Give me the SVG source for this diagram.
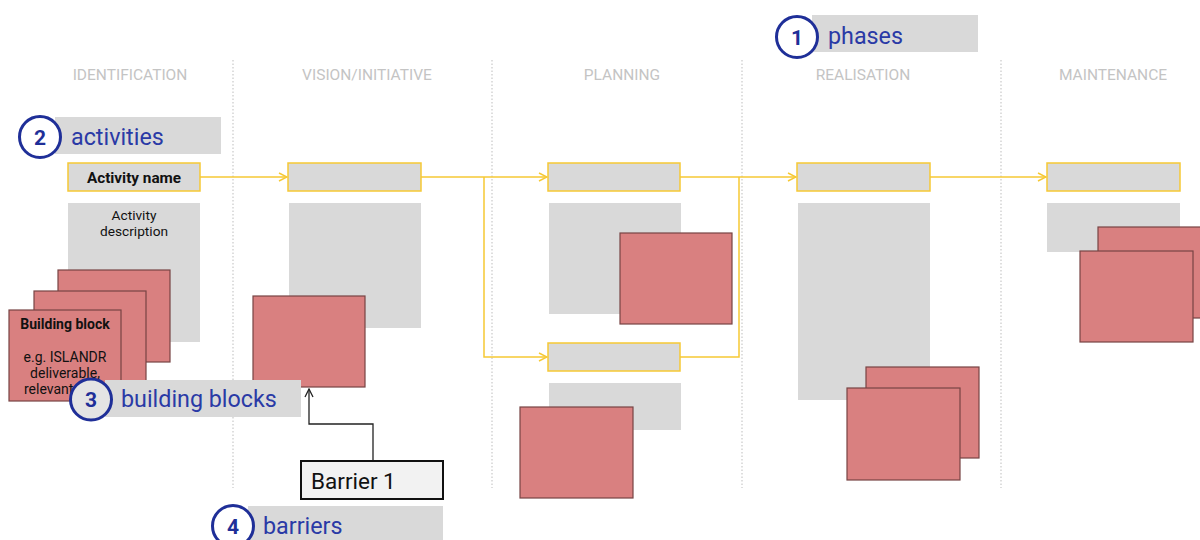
<svg xmlns="http://www.w3.org/2000/svg" width="1200" height="540" viewBox="0 0 1200 540">
  <style>
    .phase { font-family: Roboto, "Liberation Sans", sans-serif; font-size: 15.5px; fill: #c4c4c4; text-anchor: middle; }
    .divider { stroke: #d4d4d4; stroke-width: 1.5; stroke-dasharray: 1.5 2; }
    .act { fill: #d9d9d9; stroke: #f6c935; stroke-width: 1.5; }
    .desc { fill: #d9d9d9; }
    .block { fill: #d98080; stroke: #774444; stroke-width: 1.2; }
    .flow { fill: none; stroke: #f6c935; stroke-width: 1.5; }
    .label { font-family: Roboto, "Liberation Sans", sans-serif; fill: #111; text-anchor: middle; }
    .callbg { fill: #d9d9d9; }
    .callring { stroke: #1f2f98; stroke-width: 3; }
    .callnum { font-family: Roboto, "Liberation Sans", sans-serif; font-size: 21px; font-weight: bold; fill: #1f2f98; text-anchor: middle; }
    .calltxt { font-family: Roboto, "Liberation Sans", sans-serif; font-size: 23.3px; fill: #2a3aa6; }
  </style>
  <defs>
    <marker id="yarrow" viewBox="0 0 10 10" refX="9" refY="5" markerWidth="10" markerHeight="10" markerUnits="userSpaceOnUse" orient="auto">
      <path d="M1,1 L9,5 L1,9" fill="none" stroke="#f6c935" stroke-width="1.5"/>
    </marker>
    <marker id="karrow" viewBox="0 0 10 10" refX="9" refY="5" markerWidth="10" markerHeight="10" markerUnits="userSpaceOnUse" orient="auto">
      <path d="M1,1 L9,5 L1,9" fill="none" stroke="#222" stroke-width="1.3"/>
    </marker>
  </defs>

  <rect width="1200" height="540" fill="#ffffff"/>

  <!-- phase columns -->
  <g id="phases">
    <line class="divider" x1="233" y1="60" x2="233" y2="488"/>
    <line class="divider" x1="492" y1="60" x2="492" y2="488"/>
    <line class="divider" x1="742" y1="60" x2="742" y2="488"/>
    <line class="divider" x1="1001" y1="60" x2="1001" y2="488"/>
    <text class="phase" x="130" y="79.5">IDENTIFICATION</text>
    <text class="phase" x="367" y="79.5">VISION/INITIATIVE</text>
    <text class="phase" x="622" y="79.5">PLANNING</text>
    <text class="phase" x="863" y="79.5">REALISATION</text>
    <text class="phase" x="1113" y="79.5">MAINTENANCE</text>
  </g>

  <!-- activity descriptions -->
  <g id="descriptions">
    <rect class="desc" x="68" y="203" width="132" height="139"/>
    <text class="label" x="134" y="220" font-size="13.7">Activity</text>
    <text class="label" x="134" y="236" font-size="13.7">description</text>
    <rect class="desc" x="289" y="203" width="132" height="125"/>
    <rect class="desc" x="549" y="203" width="132" height="111"/>
    <rect class="desc" x="549" y="383" width="132" height="47"/>
    <rect class="desc" x="798" y="203" width="132" height="197"/>
    <rect class="desc" x="1047" y="203" width="133" height="49"/>
  </g>

  <!-- connectors -->
  <g id="connectors">
    <path class="flow" d="M200,177 H287" marker-end="url(#yarrow)"/>
    <path class="flow" d="M421,177 H547" marker-end="url(#yarrow)"/>
    <path class="flow" d="M484,177 V357 H547" marker-end="url(#yarrow)"/>
    <path class="flow" d="M680,177 H796" marker-end="url(#yarrow)"/>
    <path class="flow" d="M680,357 H739 V177"/>
    <path class="flow" d="M930,177 H1046" marker-end="url(#yarrow)"/>
    <path d="M373,461 V424 H309 V389" fill="none" stroke="#222" stroke-width="1.3" marker-end="url(#karrow)"/>
  </g>

  <!-- activities -->
  <g id="activity-1">
    <rect class="act" x="68" y="163" width="132" height="28"/>
    <text class="label" x="134" y="182.5" font-size="15.3" font-weight="bold">Activity name</text>
  </g>
  <g id="activity-2"><rect class="act" x="288" y="163" width="133" height="28"/></g>
  <g id="activity-3"><rect class="act" x="548" y="163" width="132" height="28"/></g>
  <g id="activity-4"><rect class="act" x="548" y="343" width="132" height="28"/></g>
  <g id="activity-5"><rect class="act" x="797" y="163" width="133" height="28"/></g>
  <g id="activity-6"><rect class="act" x="1047" y="163" width="133" height="28"/></g>

  <!-- building blocks -->
  <g id="blocks-identification">
    <rect class="block" x="58" y="270" width="112" height="92"/>
    <rect class="block" x="34" y="291" width="112" height="92"/>
    <rect class="block" x="9" y="310" width="112" height="91"/>
    <text class="label" x="65" y="328.5" font-size="14" font-weight="bold">Building block</text>
    <text class="label" x="65" y="362" font-size="14">e.g. ISLANDR</text>
    <text class="label" x="65" y="378" font-size="14">deliverable,</text>
    <text class="label" x="24" y="394" font-size="14" style="text-anchor:start">relevant</text>
  </g>
  <g id="blocks-vision">
    <rect class="block" x="253" y="296" width="112" height="91"/>
  </g>
  <g id="blocks-planning">
    <rect class="block" x="620" y="233" width="112" height="91"/>
    <rect class="block" x="520" y="407" width="113" height="91"/>
  </g>
  <g id="blocks-realisation">
    <rect class="block" x="866" y="367" width="113" height="91"/>
    <rect class="block" x="847" y="388" width="113" height="92"/>
  </g>
  <g id="blocks-maintenance">
    <rect class="block" x="1098" y="227" width="110" height="91"/>
    <rect class="block" x="1080" y="251" width="113" height="91"/>
  </g>

  <!-- barrier -->
  <g id="barrier-1">
    <rect x="301" y="461" width="142" height="38" fill="#f2f2f2" stroke="#111" stroke-width="2"/>
    <text x="311" y="488.5" font-family="Roboto, 'Liberation Sans', sans-serif" font-size="22.5" fill="#111">Barrier 1</text>
  </g>

  <!-- legend callouts -->
  <g id="callout-1">
    <rect class="callbg" x="812" y="15" width="166" height="37"/>
    <circle cx="797" cy="37" r="20.5" fill="#ffffff" class="callring"/>
    <text class="callnum" x="797" y="44.5">1</text>
    <text class="calltxt" x="828" y="43.5">phases</text>
  </g>
  <g id="callout-2">
    <rect class="callbg" x="55" y="117" width="166" height="37"/>
    <circle cx="40" cy="137" r="20.5" fill="#ffffff" class="callring"/>
    <text class="callnum" x="40" y="144.5">2</text>
    <text class="calltxt" x="71" y="144.5">activities</text>
  </g>
  <g id="callout-3">
    <rect class="callbg" x="105" y="380" width="196" height="37"/>
    <circle cx="91" cy="399.5" r="20.5" fill="#e4e4e4" class="callring"/>
    <text class="callnum" x="91" y="407">3</text>
    <text class="calltxt" x="121" y="407">building blocks</text>
  </g>
  <g id="callout-4">
    <rect class="callbg" x="248" y="506" width="195" height="37"/>
    <circle cx="233" cy="526" r="20.5" fill="#ffffff" class="callring"/>
    <text class="callnum" x="233" y="533.5">4</text>
    <text class="calltxt" x="263" y="533.5">barriers</text>
  </g>
</svg>
